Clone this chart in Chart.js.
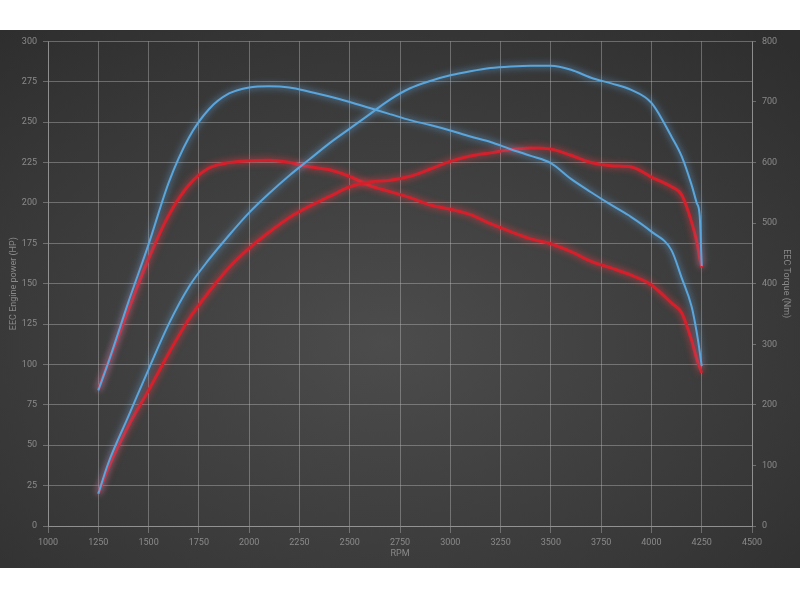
<!DOCTYPE html>
<html>
<head>
<meta charset="utf-8">
<script src="https://cdn.jsdelivr.net/npm/chart.js@4/dist/chart.umd.min.js"></script>
<style>
    html, body {
        margin: 0;
        padding: 0;
        background: #ffffff;
    }
    #wrap {
        position: absolute;
        left: 0;
        top: 30px;
        width: 800px;
        height: 538px;
        background: radial-gradient(ellipse 75% 75% at 48% 58%, #4c4c4c 0%, #3c3c3c 55%, #2e2e2e 100%);
    }
</style>
</head>
<body>
<div id="wrap">
    <canvas id="dynoChart" width="800" height="538"></canvas>
</div>

<script>
/* ==========================================
   DATA
========================================== */

const rpm = [
    1250, 1300, 1400, 1500, 1600, 1700, 1800, 1900, 2000, 2100,
    2200, 2300, 2400, 2500, 2600, 2700, 2800, 2900, 3000, 3100,
    3200, 3300, 3400, 3500, 3600, 3700, 3800, 3900, 4000, 4100,
    4150, 4200, 4225, 4240, 4250
];

// Tuned (blue) - power in HP, torque in Nm
const bluePower = [
    20, 39, 68, 97, 125, 148, 165, 180, 194, 206,
    217, 227, 237, 246, 255, 264, 271, 275.5, 279, 281.5,
    283.5, 284.5, 285, 285, 282.5, 277.5, 274, 270, 262, 241,
    229, 211, 200, 192, 161
];

const blueTorque = [
    224, 270, 370, 465, 567, 641, 688, 714, 724, 726,
    724, 717, 709, 700, 690, 680, 670, 662, 653, 643,
    634, 622, 611, 599, 573, 551, 530, 510, 486, 455,
    410, 362, 320, 288, 264
];

// Stock (red) - power in HP, torque in Nm
const redPower = [
    20, 36, 62, 84, 107, 128, 145, 160, 172, 182,
    191, 198, 204, 210, 213, 214, 216.5, 221, 225.7, 229,
    231, 233, 234, 233.3, 229.5, 225, 223, 222.3, 216, 210,
    205, 188, 176, 166, 160
];

const redTorque = [
    225, 270, 357, 441, 513, 563, 591, 600, 603, 604,
    600, 593, 588, 577, 562, 552, 542, 530, 523, 514,
    499, 486, 474, 466, 453, 437, 426, 414, 398, 368,
    352, 306, 276, 262, 253
];

function toPoints(values){
    return values.map((v, i) => ({ x: rpm[i], y: v }));
}


/* ==========================================
   GLOW PLUGIN
========================================== */

const glowPlugin = {
    id: "glow",
    beforeDatasetDraw(chart, args) {
        const ctx = chart.ctx;
        ctx.save();
        ctx.shadowColor = args.meta._dataset.glowColor;
        ctx.shadowBlur = 7;
    },
    afterDatasetDraw(chart) {
        chart.ctx.restore();
    }
};


/* ==========================================
   CHART
========================================== */

const textColor = "#8a8a8a";
const gridColor = "rgba(200,200,200,0.38)";
const blue = "#5aa6dc";
const red = "#d5202c";
const tickFont = { family: "Roboto", size: 9 };

new Chart(document.getElementById("dynoChart"), {

    type: "line",

    data: {
        datasets: [
            {
                label: "Tuned power",
                data: toPoints(bluePower),
                yAxisID: "yPower",
                borderColor: blue,
                borderWidth: 2,
                glowColor: "rgba(110,190,255,0.9)"
            },
            {
                label: "Tuned torque",
                data: toPoints(blueTorque),
                yAxisID: "yTorque",
                borderColor: blue,
                borderWidth: 2,
                glowColor: "rgba(110,190,255,0.9)"
            },
            {
                label: "Stock power",
                data: toPoints(redPower),
                yAxisID: "yPower",
                borderColor: red,
                borderWidth: 3,
                glowColor: "rgba(255,60,70,0.8)"
            },
            {
                label: "Stock torque",
                data: toPoints(redTorque),
                yAxisID: "yTorque",
                borderColor: red,
                borderWidth: 3,
                glowColor: "rgba(255,60,70,0.8)"
            }
        ]
    },

    options: {
        responsive: false,
        animation: false,
        layout: {
            padding: { top: 5, left: 0, right: 0, bottom: 0 }
        },
        elements: {
            point: { radius: 0 },
            line: { cubicInterpolationMode: "monotone", fill: false }
        },
        plugins: {
            legend: { display: false },
            tooltip: { enabled: false }
        },
        scales: {
            x: {
                type: "linear",
                min: 1000,
                max: 4500,
                ticks: {
                    stepSize: 250,
                    color: textColor,
                    font: tickFont,
                    padding: 4,
                    maxRotation: 0,
                    callback: (value) => String(value)
                },
                grid: { color: gridColor, tickLength: 7 },
                border: { color: gridColor },
                title: {
                    display: true,
                    text: "RPM",
                    color: textColor,
                    font: tickFont,
                    padding: { top: 0, bottom: 9 }
                },
                afterFit(scale) { scale.height = 42; }
            },
            yPower: {
                position: "left",
                min: 0,
                max: 300,
                ticks: {
                    stepSize: 25,
                    color: textColor,
                    font: tickFont,
                    padding: 6
                },
                grid: { color: gridColor, tickLength: 5 },
                border: { color: gridColor },
                title: {
                    display: true,
                    text: "EEC Engine power (HP)",
                    color: textColor,
                    font: tickFont,
                    padding: { top: 8, bottom: 8 }
                },
                afterFit(scale) { scale.width = 48; }
            },
            yTorque: {
                position: "right",
                min: 0,
                max: 800,
                ticks: {
                    stepSize: 100,
                    color: textColor,
                    font: tickFont,
                    padding: 6
                },
                grid: { drawOnChartArea: false, color: gridColor, tickLength: 4 },
                border: { color: gridColor },
                title: {
                    display: true,
                    text: "EEC Torque (Nm)",
                    color: textColor,
                    font: tickFont,
                    padding: { top: 8, bottom: 8 }
                },
                afterFit(scale) { scale.width = 48; }
            }
        }
    },

    plugins: [glowPlugin]

});
</script>
</body>
</html>
